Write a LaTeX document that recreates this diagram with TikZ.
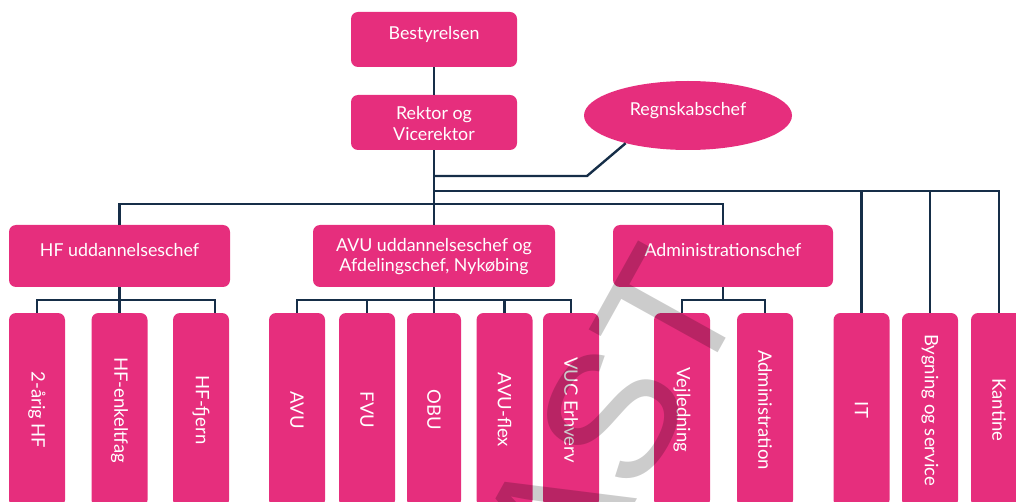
\documentclass[tikz,border=0pt]{standalone}
\usepackage{fontspec}
\setmainfont{Lato}
\newfontfamily\wmfont{Liberation Sans}
\usetikzlibrary{shapes.geometric}
\definecolor{pinkbox}{RGB}{230,46,125}
\definecolor{navyline}{RGB}{22,46,72}
\newcommand{\mvtxt}[2]{\raisebox{#1}[\height][\depth]{#2}}
\newcommand{\twol}[2]{\begin{tabular}{@{}c@{}}#1\\#2\end{tabular}}
\begin{document}
\begin{tikzpicture}[x=1pt,y=-1pt,
  box/.style={fill=pinkbox,rounded corners=7pt,text=white,inner sep=0pt,
    font=\fontsize{17.8}{20.5}\selectfont},
  topbox/.style={box,minimum width=166pt,minimum height=55pt},
  midbox/.style={box,minimum height=62pt},
  colbox/.style={box,minimum width=56pt,minimum height=194pt,font=\fontsize{18.5}{21}\selectfont},
  conn/.style={draw=navyline,line width=2.4pt},
]
\useasboundingbox (0,0) rectangle (1016,502);
\clip (0,0) rectangle (1016,502);
% top
\node[topbox] (best) at (434,39.5) {\mvtxt{5pt}{Bestyrelsen}};
\node[topbox] (rek) at (434,122.5) {\mvtxt{-3.5pt}{\twol{Rektor og}{Vicerektor}}};
\node[fill=pinkbox,ellipse,minimum width=208pt,minimum height=69pt,inner sep=0pt,text=white,
  font=\fontsize{17.8}{21.5}\selectfont] (regn) at (688,115.5) {\mvtxt{5pt}{Regnskabschef}};
% middle
\node[midbox,minimum width=221pt] (hf) at (119.5,256) {\mvtxt{6pt}{HF uddannelseschef}};
\node[midbox,minimum width=242pt] (avu) at (434,256) {\mvtxt{-1.5pt}{\twol{AVU uddannelseschef og}{Afdelingschef, Nykøbing}}};
\node[midbox,minimum width=220pt] (adm) at (723,256) {\mvtxt{6pt}{Administrationschef}};
% columns
\node[colbox] (b1) at (37,410) {\rotatebox{-90}{2-årig HF}};
\node[colbox] (b2) at (119.5,410) {\rotatebox{-90}{HF-enkeltfag}};
\node[colbox] (b3) at (201,410) {\rotatebox{-90}{HF-fjern}};
\node[colbox] (b4) at (297,410) {\rotatebox{-90}{AVU}};
\node[colbox] (b5) at (367,410) {\rotatebox{-90}{FVU}};
\node[colbox,minimum width=54pt] (b6) at (434,410) {\rotatebox{-90}{OBU}};
\node[colbox] (b7) at (504.5,410) {\rotatebox{-90}{AVU-flex}};
\node[colbox] (b8) at (571,410) {\rotatebox{-90}{VUC Erhverv}};
\node[colbox] (b9) at (682,410) {\rotatebox{-90}{Vejledning}};
\node[colbox] (b10) at (765,410) {\rotatebox{-90}{Administration}};
\node[colbox] (b11) at (861.5,410) {\rotatebox{-90}{IT}};
\node[colbox] (b12) at (930,410) {\rotatebox{-90}{Bygning og service}};
\node[colbox] (b13) at (999,410) {\rotatebox{-90}{Kantine}};
% connectors
\coordinate (rj) at (434,176);
\coordinate (tj) at (434,191);
\draw[conn] (best.south) -- (rek.north);
\draw[conn] (rek.south) -- (avu.north);
\draw[conn] (rj) -- (587,176) -- (regn.-156);
\draw[conn] (tj) -| (b13.north);
\draw[conn] (b11.north) -- (b11.north |- tj);
\draw[conn] (b12.north) -- (b12.north |- tj);
\draw[conn] (hf.north) -- ++(0,-21) -| (adm.north);
\draw[conn] (hf.south) -- (b2.north);
\draw[conn] (b1.north) -- ++(0,-13) -| ([xshift=14pt]b3.north);
\draw[conn] (avu.south) -- (b6.north);
\draw[conn] (b4.north) -- ++(0,-13) -| (b8.north);
\draw[conn] (b5.north) -- ++(0,-13);
\draw[conn] (b7.north) -- ++(0,-13);
\draw[conn] (adm.south) -- ++(0,13);
\draw[conn] (b9.north) -- ++(0,-13) -| (b10.north);
% watermark
\node[rotate=61,anchor=base east,inner sep=0pt,text=black,text opacity=0.2,
  font=\wmfont\fontsize{180}{180}\selectfont] (wm) at (749,297) {AST};
\end{tikzpicture}
\end{document}
